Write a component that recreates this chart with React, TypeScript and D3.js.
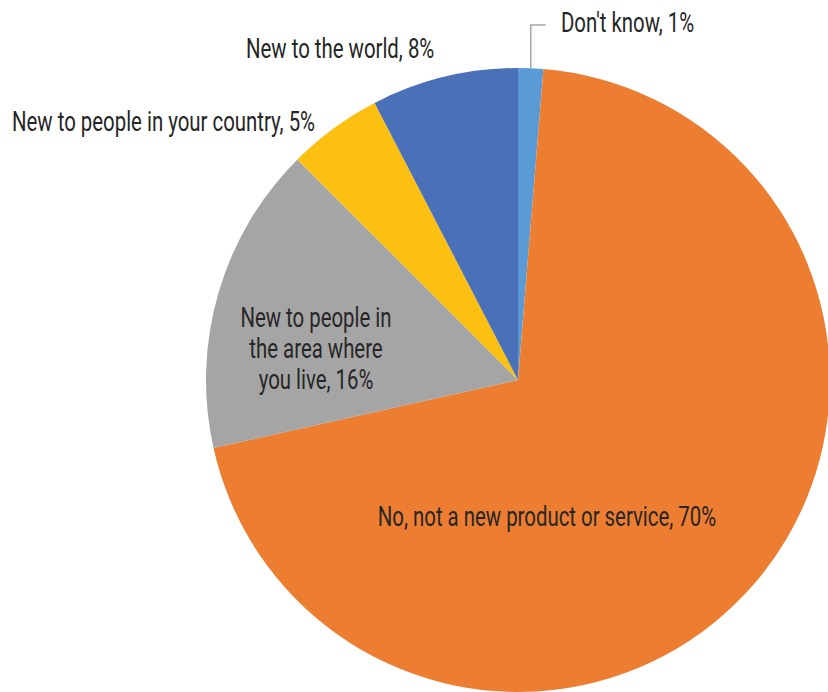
import React from "react";
import * as d3 from "d3";

const categories = [
  "Don't know",
  "No, not a new product or service",
  "New to people in the area where you live",
  "New to people in your country",
  "New to the world",
];
const values = [1.3, 70.2, 16.0, 4.9, 7.6];
const labelTexts = [
  ["Don't know, 1%"],
  ["No, not a new product or service, 70%"],
  ["New to people in", "the area where", "you live, 16%"],
  ["New to people in your country, 5%"],
  ["New to the world, 8%"],
];
const colors = ["#5B9BD5", "#ED7D31", "#A5A5A5", "#FBC012", "#4A70B8"];

const W = 828;
const H = 692;
const cx = 518;
const cy = 380;
const R = 312;
const FONT = "Roboto, 'DejaVu Sans Condensed', sans-serif";
const FS = 27;
const SX = 0.755;

// label layout (x, y of first baseline, anchor)
const labelLayout: [number, number, string][] = [
  [561, 32, "start"],
  [547, 526, "middle"],
  [316, 327, "middle"],
  [12, 131, "start"],
  [246, 58, "start"],
];

export default function App() {
  const pie = d3.pie<number>().sort(null).value((d) => d);
  const arcs = pie(values);
  const arc = d3.arc<d3.PieArcDatum<number>>().innerRadius(0).outerRadius(R);

  const dk = arcs[0];
  const mid = (dk.startAngle + dk.endAngle) / 2;
  const lx = cx + R * Math.sin(mid);
  const ly = cy - R * Math.cos(mid);

  return (
    <svg width={W} height={H} style={{ position: "absolute", left: 0, top: 0 }}>
      <rect width={W} height={H} fill="#fff" />
      <g transform={`translate(${cx},${cy})`}>
        {arcs.map((a, i) => (
          <path key={categories[i]} d={arc(a) || ""} fill={colors[i]} />
        ))}
      </g>
      <polyline
        points={`${lx},${ly} ${lx},25 ${lx + 15},25`}
        fill="none"
        stroke="#A6A6A6"
        strokeWidth={1.5}
      />
      {labelTexts.map((lines, i) => (
        <text
          key={i}
          transform={`translate(${labelLayout[i][0]},${labelLayout[i][1]}) scale(${SX},1)`}
          textAnchor={labelLayout[i][2] as any}
          fontFamily={FONT}
          fontSize={FS}
          fontWeight={400}
          fill="#262626"
        >
          {lines.map((t, j) => (
            <tspan key={j} x={0} dy={j === 0 ? 0 : 31}>
              {t}
            </tspan>
          ))}
        </text>
      ))}
    </svg>
  );
}
